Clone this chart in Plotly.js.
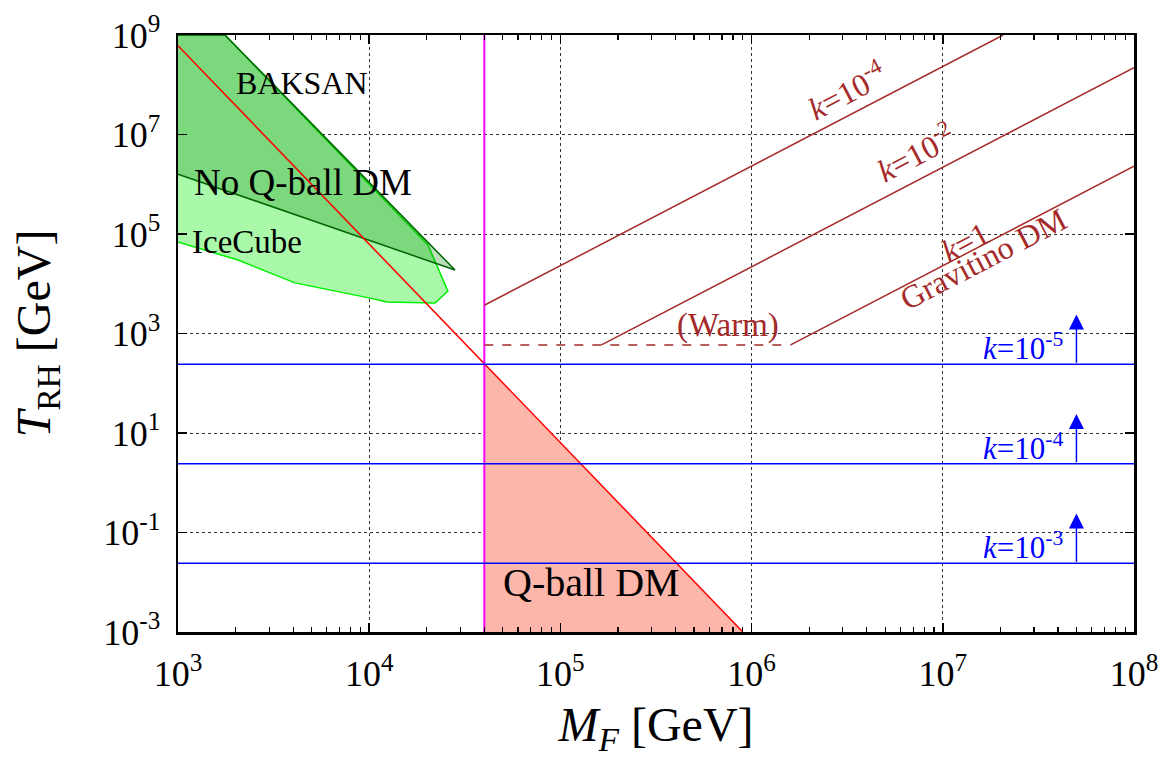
<!DOCTYPE html>
<html>
<head>
<meta charset="utf-8">
<script src="https://cdn.plot.ly/plotly-3.0.1.min.js"></script>
<style>html,body{margin:0;padding:0;background:#fff;}#chart{width:1169px;height:758px;}</style>
</head>
<body>
<div id="chart"></div>
<script>
// ---- tick labels ----
const xTickVals = [1e3, 1e4, 1e5, 1e6, 1e7, 1e8];
const xTickText = ["10<sup>3</sup>", "10<sup>4</sup>", "10<sup>5</sup>", "10<sup>6</sup>", "10<sup>7</sup>", "10<sup>8</sup>"];
const yTickVals = [1e-3, 1e-1, 1e1, 1e3, 1e5, 1e7, 1e9];
const yTickText = ["10<sup>-3</sup>", "10<sup>-1</sup>", "10<sup>1</sup>", "10<sup>3</sup>", "10<sup>5</sup>", "10<sup>7</sup>", "10<sup>9</sup>"];

// ---- Q-ball boundary (red) and Q-ball DM region ----
const qballLineM = [1e3, 9e5];
const qballLineT = [6.1e8, 1e-3];
const qballDM_M = [4e4, 9e5, 4e4];
const qballDM_T = [2.38e2, 1e-3, 1e-3];

// ---- vertical magenta line ----
const magentaM = [4e4, 4e4];
const magentaT = [1e-3, 1e9];

// ---- IceCube and BAKSAN excluded regions ----
const iceCubeM = [1e3, 1.76e3, 2.03e4, 2.58e4, 2.21e4, 1.24e4, 9.97e3, 4.09e3, 2.06e3, 1e3];
const iceCubeT = [1e9, 1e9, 6.0e4, 7.1e3, 4.1e3, 4.3e3, 5.2e3, 1.04e4, 3.0e4, 6.9e4];
const baksanM = [1e3, 1.76e3, 2.81e4, 1e3];
const baksanT = [1e9, 1e9, 1.89e4, 1.6e6];

// ---- blue lower bounds on T_RH ----
const blueT = [2.4e2, 2.4, 2.4e-2];
const blueLabels = ["<i>k</i>=10<sup>-5</sup>", "<i>k</i>=10<sup>-4</sup>", "<i>k</i>=10<sup>-3</sup>"];
const blueM = [1e3, 1e8];
const arrowM = 5e7;

// ---- gravitino DM lines (brown) ----
const grav4M = [4e4, 2.07e7];   const grav4T = [3.7e3, 1e9];
const grav2M = [1.64e5, 1e8];   const grav2T = [5.9e2, 2.2e8];
const grav0M = [1.6e6, 1e8];    const grav0T = [5.9e2, 2.3e6];
const warmM = [4e4, 1.6e6];     const warmT = [5.9e2, 5.9e2];

const FONT = "'Liberation Serif', 'DejaVu Serif', serif";
const BROWN = "#a52a2a";

const minorX = [];
for (let d = 3; d < 8; d++) for (let m = 2; m <= 9; m++) minorX.push(m * Math.pow(10, d));

const traces = [
  {x: qballDM_M, y: qballDM_T, mode: "lines", fill: "toself", fillcolor: "#fdb6aa", line: {width: 0}, hoverinfo: "skip"},
  {x: iceCubeM, y: iceCubeT, mode: "lines", fill: "toself", fillcolor: "#aaf8aa", line: {color: "#00ee00", width: 1.5}},
  {x: baksanM, y: baksanT, mode: "lines", fill: "toself", fillcolor: "rgba(0,130,0,0.27)", line: {color: "#006400", width: 1.5}},
  {x: qballLineM, y: qballLineT, mode: "lines", line: {color: "#ff0000", width: 1.5}},
  {x: magentaM, y: magentaT, mode: "lines", line: {color: "#ff00ff", width: 2}},
  {x: grav4M, y: grav4T, mode: "lines", line: {color: BROWN, width: 1.5}},
  {x: grav2M, y: grav2T, mode: "lines", line: {color: BROWN, width: 1.5}},
  {x: grav0M, y: grav0T, mode: "lines", line: {color: BROWN, width: 1.5}},
  {x: warmM, y: warmT, mode: "lines", line: {color: BROWN, width: 1.5, dash: "dash"}}
];
blueT.forEach(t => traces.push({x: blueM, y: [t, t], mode: "lines", line: {color: "#0000ff", width: 1.5}}));

const L = Math.log10;
const annotations = [
  {x: L(4.46e3), y: L(1.08e8), text: "BAKSAN", size: 32, color: "#000"},
  {x: L(4.5e3), y: L(1.06e6), text: "No Q-ball DM", size: 37, color: "#000"},
  {x: L(2.3e3), y: L(6.9e4), text: "IceCube", size: 33, color: "#000"},
  {x: L(1.46e5), y: L(1.0e-2), text: "Q-ball DM", size: 40, color: "#000"},
  {x: L(7.5e5), y: L(1.42e3), text: "(Warm)", size: 33, color: BROWN},
  {x: L(3.12e6), y: L(7.8e7), text: "<i>k</i>=10<sup>-4</sup>", size: 32, color: BROWN, angle: -27.5},
  {x: L(7.16e6), y: L(4.45e6), text: "<i>k</i>=10<sup>-2</sup>", size: 32, color: BROWN, angle: -27.5},
  {x: L(1.31e7), y: L(6.9e4), text: "<i>k</i>=1", size: 32, color: BROWN, angle: -27.5},
  {x: L(1.62e7), y: L(3.2e4), text: "Gravitino DM", size: 32, color: BROWN, angle: -27.5}
].map(a => ({x: a.x, y: a.y, xref: "x", yref: "y", text: a.text, showarrow: false,
  textangle: a.angle || 0, font: {family: FONT, size: a.size, color: a.color}}));

blueT.forEach((t, i) => {
  annotations.push({x: L(4.35e7), y: L(t) + 0.35, xref: "x", yref: "y", xanchor: "right", yanchor: "middle",
    text: blueLabels[i], showarrow: false, font: {family: FONT, size: 31, color: "#0000ff"}});
  annotations.push({x: L(arrowM), y: L(t * 10), ax: L(arrowM), ay: L(t), xref: "x", yref: "y", axref: "x", ayref: "y",
    text: "", showarrow: true, arrowhead: 2, arrowsize: 2, arrowwidth: 1.5, arrowcolor: "#0000ff", standoff: 0});
});

const axisCommon = {
  type: "log", showline: true, linecolor: "#000", linewidth: 2.5, mirror: "allticks",
  ticks: "inside", ticklen: 9, tickwidth: 1.5, tickcolor: "#000",
  showgrid: true, gridcolor: "#333", griddash: "dot", gridwidth: 1, zeroline: false,
  tickmode: "array", tickfont: {family: FONT, size: 36, color: "#000"}, ticklabelstandoff: 8
};

const layout = {
  width: 1169, height: 758,
  margin: {l: 178, r: 35, t: 35, b: 126},
  paper_bgcolor: "#fff", plot_bgcolor: "#fff",
  showlegend: false,
  font: {family: FONT},
  xaxis: Object.assign({}, axisCommon, {
    range: [3, 8], tickvals: xTickVals, ticktext: xTickText,
    minor: {tickmode: "array", tickvals: minorX, ticks: "inside", ticklen: 5, tickcolor: "#000", tickwidth: 1.2, showgrid: false},
    title: {text: "<i>M</i><sub><i>F</i></sub> [GeV]", font: {family: FONT, size: 48, color: "#000"}, standoff: 26}
  }),
  yaxis: Object.assign({}, axisCommon, {
    range: [-3, 9], tickvals: yTickVals, ticktext: yTickText,
    title: {text: "<i>T</i><sub>RH</sub> [GeV]", font: {family: FONT, size: 48, color: "#000"}, standoff: 38}
  }),
  annotations: annotations
};

Plotly.newPlot("chart", traces, layout, {staticPlot: true, displayModeBar: false});
</script>
</body>
</html>
